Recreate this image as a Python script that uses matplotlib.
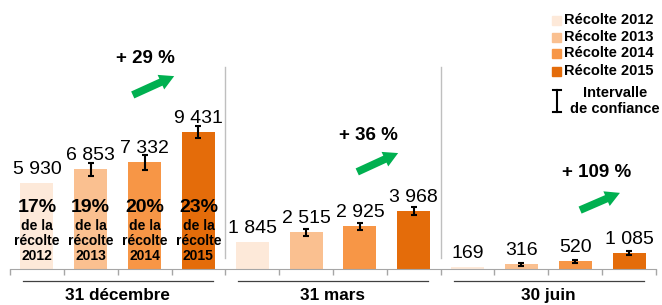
import matplotlib
matplotlib.use("Agg")
import matplotlib.pyplot as plt
from matplotlib.patches import Rectangle, FancyArrowPatch
from matplotlib.lines import Line2D
import matplotlib.transforms as mtransforms

plt.rcParams["font.family"] = ["Liberation Sans", "DejaVu Sans"]

# ---- data ----
groups = ["31 décembre", "31 mars", "30 juin"]
years = ["2012", "2013", "2014", "2015"]
v2012 = [5930, 1845, 169]
v2013 = [6853, 2515, 316]
v2014 = [7332, 2925, 520]
v2015 = [9431, 3968, 1085]
err2012 = None
err2013 = [450, 250, 100]
err2014 = [500, 270, 100]
err2015 = [400, 270, 150]
shares_dec = ["17%", "19%", "20%", "23%"]
growth = ["+ 29 %", "+ 36 %", "+ 109 %"]

COLORS = ["#FDE9D9", "#FAC090", "#F79646", "#E46C0A"]
GREEN, GREY = "#00B050", "#A6A6A6"

series = [v2012, v2013, v2014, v2015]
errors = [err2012, err2013, err2014, err2015]

W, H = 662, 305
fig = plt.figure(figsize=(W / 100, H / 100), dpi=100)
# axes: x 10..656 px, baseline at 269 px from top
ax = fig.add_axes([10 / W, 36 / H, 646 / W, 269 / H])
ax.set_xlim(0, 12)
ax.set_ylim(0, 269 / 0.01453)
for s in ("top", "left", "right"):
    ax.spines[s].set_visible(False)
ax.spines["bottom"].set_color(GREY)
ax.set_yticks([])
ax.set_xticks(range(13))
ax.set_xticklabels([])
ax.tick_params(axis="x", direction="out", length=4.3, color=GREY, width=1)

bx = mtransforms.blended_transform_factory(ax.transData, ax.transAxes)

for j, (vals, errs, col) in enumerate(zip(series, errors, COLORS)):
    xs = [g * 4 + j + 0.5 for g in range(len(groups))]
    ax.bar(xs, vals, width=0.61, color=col, zorder=2)
    if errs is not None:
        ax.errorbar(xs, vals, yerr=errs, fmt="none", ecolor="black",
                    elinewidth=1.5, capsize=2, capthick=1.5, zorder=3)
    for x, v in zip(xs, vals):
        ax.annotate(f"{v:,}".replace(",", " "), (x, v), xytext=(0, 6.5),
                    textcoords="offset points", ha="center", va="baseline",
                    fontsize=14)

# share labels inside the 31 décembre bars
for j, (sh, yr) in enumerate(zip(shares_dec, years)):
    x = j + 0.5
    ax.text(x, 0.227, sh, transform=bx, ha="center", va="center",
            fontsize=14, fontweight="bold")
    ax.text(x, 0.104, f"de la\nrécolte\n{yr}", transform=bx, ha="center",
            va="center", fontsize=10, fontweight="bold", linespacing=1.05)

# separators, group underline and labels
for g in range(1, len(groups)):
    ax.plot([g * 4, g * 4], [0.041, 0.751], transform=bx, color="#BFBFBF",
            lw=1, clip_on=False)
for g, name in enumerate(groups):
    ax.plot([g * 4 + 0.24, g * 4 + 3.77], [-0.0446, -0.0446], transform=bx,
            color="#404040", lw=0.9, clip_on=False)
    ax.text(g * 4 + 2, -0.097, name, transform=bx, ha="center", va="center",
            fontsize=12.3, fontweight="bold")

# growth annotations
arrow_pos = [((2.28, 0.647), (3.05, 0.717), (2.51, 0.784)),
             ((6.45, 0.361), (7.21, 0.431), (6.65, 0.498)),
             ((10.59, 0.219), (11.33, 0.283), (10.9, 0.357))]
for txt, (p0, p1, pt) in zip(growth, arrow_pos):
    ax.add_patch(FancyArrowPatch(p0, p1, transform=bx, color=GREEN,
                                 arrowstyle="simple,head_width=1.15,head_length=1.05,tail_width=0.55",
                                 mutation_scale=10, shrinkA=0, shrinkB=0,
                                 clip_on=False, lw=0))
    ax.text(pt[0], pt[1], txt, transform=bx, ha="center", va="center",
            fontsize=13.5, fontweight="bold")

# legend (manual)
for j, (yr, col) in enumerate(zip(years, COLORS)):
    yc = [20, 37, 53, 71][j]
    fig.patches.append(Rectangle((552 / W, (H - yc - 4.5) / H), 9 / W, 9 / H,
                                 transform=fig.transFigure, color=col))
    fig.text(564 / W, (H - yc) / H, f"Récolte {yr}", ha="left", va="center",
             fontsize=10.5, fontweight="bold")
fig.lines.append(Line2D([557 / W, 557 / W], [(H - 90) / H, (H - 112) / H],
                        transform=fig.transFigure, color="black", lw=1.5))
for yy in (90, 112):
    fig.lines.append(Line2D([553 / W, 561 / W], [(H - yy) / H, (H - yy) / H],
                            transform=fig.transFigure, color="black", lw=1.5))
fig.text(615 / W, (H - 101) / H, "Intervalle\nde confiance", ha="center",
         va="center", fontsize=10.5, fontweight="bold", linespacing=1.15)

fig.savefig("out.png", dpi=100)
